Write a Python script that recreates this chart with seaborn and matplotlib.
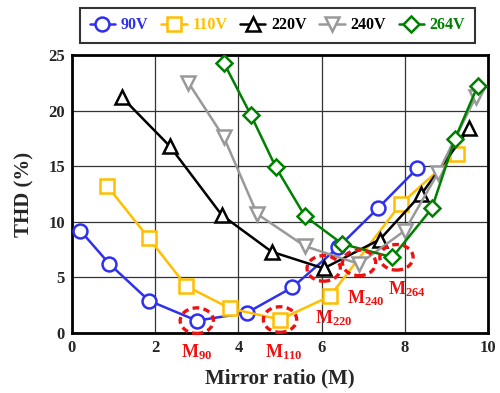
import matplotlib
matplotlib.use("Agg")
import matplotlib.pyplot as plt
from matplotlib.patches import Ellipse
import seaborn as sns
import pandas as pd

# THD versus mirror ratio for each input voltage
m_90 = [0.2, 0.9, 1.85, 3.0, 4.2, 5.3, 6.4, 7.35, 8.3]
thd_90 = [9.2, 6.2, 2.9, 1.1, 1.8, 4.1, 7.7, 11.2, 14.8]

m_110 = [0.85, 1.85, 2.75, 3.8, 5.0, 6.2, 7.9, 9.25]
thd_110 = [13.2, 8.5, 4.2, 2.2, 1.2, 3.3, 11.6, 16.1]

m_220 = [1.2, 2.35, 3.6, 4.8, 6.05, 7.4, 8.4, 9.55]
thd_220 = [21.2, 16.8, 10.6, 7.3, 5.8, 8.4, 12.5, 18.4]

m_240 = [2.8, 3.65, 4.45, 5.6, 6.9, 8.0, 8.8, 9.7]
thd_240 = [22.5, 17.6, 10.7, 7.8, 6.2, 9.2, 14.4, 21.2]

m_264 = [3.65, 4.3, 4.9, 5.6, 6.5, 7.7, 8.65, 9.2, 9.75]
thd_264 = [24.3, 19.6, 14.9, 10.5, 8.0, 6.8, 11.2, 17.4, 22.2]

voltages = ["90V", "110V", "220V", "240V", "264V"]
colors = ["#2f2ff0", "#ffbf00", "#000000", "#999999", "#008000"]
markers = ["o", "s", "^", "v", "D"]

# optimum points (mirror ratio, THD) and their labels
opt_m = [3.0, 5.0, 6.05, 6.9, 7.8]
opt_thd = [1.1, 1.2, 5.8, 6.3, 6.8]
opt_labels = ["M$_{90}$", "M$_{110}$", "M$_{220}$", "M$_{240}$", "M$_{264}$"]
label_pos = [(3.0, -1.7), (5.1, -1.7), (6.3, 1.35), (7.07, 3.15), (8.05, 3.9)]

series = [(m_90, thd_90), (m_110, thd_110), (m_220, thd_220),
          (m_240, thd_240), (m_264, thd_264)]
frames = []
for v, (mx, ty) in zip(voltages, series):
    frames.append(pd.DataFrame({"M": mx, "THD": ty, "Voltage": v}))
df = pd.concat(frames, ignore_index=True)

sns.set_style("white")
plt.rcParams["font.family"] = ["Liberation Serif", "DejaVu Serif"]
plt.rcParams["font.weight"] = "bold"
plt.rcParams["mathtext.fontset"] = "custom"
plt.rcParams["mathtext.rm"] = "Liberation Serif:bold"
plt.rcParams["mathtext.it"] = "Liberation Serif:bold"
plt.rcParams["mathtext.bf"] = "Liberation Serif:bold"

fig = plt.figure(figsize=(5.0, 3.93), dpi=100)
ax = fig.add_axes([0.144, 0.153, 0.832, 0.707])

for v, c, mk in zip(voltages, colors, markers):
    sub = df[df["Voltage"] == v]
    sns.lineplot(data=sub, x="M", y="THD", ax=ax, color=c, marker=mk,
                 markersize=10 if mk != "D" else 8.5, markerfacecolor="white",
                 markeredgecolor=c, markeredgewidth=1.8, linewidth=1.8,
                 label=v, sort=False, zorder=3)

# dashed circles around the optimum points
red = "#ee1111"
for mx, ty in zip(opt_m, opt_thd):
    ax.add_patch(Ellipse((mx, ty), width=0.8, height=2.3, fill=False,
                         edgecolor=red, linestyle=(0, (2, 1.3)),
                         linewidth=2.4, zorder=4, clip_on=False))

for (lx, ly), lab in zip(label_pos, opt_labels):
    ax.text(lx, ly, lab, color=red, fontsize=13, ha="center",
            va="center", fontweight="bold")

ax.set_xlim(0, 10)
ax.set_ylim(0, 25)
ax.set_xticks([0, 2, 4, 6, 8, 10])
ax.set_yticks([0, 5, 10, 15, 20, 25])
ax.grid(True, color="#333333", linewidth=0.9)
ax.set_axisbelow(True)
for s in ax.spines.values():
    s.set_color("black")
    s.set_linewidth(2)
ax.tick_params(axis="both", labelsize=12, length=0, pad=5)
for lbl in ax.get_xticklabels() + ax.get_yticklabels():
    lbl.set_fontweight("bold")
ax.set_xlabel("Mirror ratio (M)", fontsize=15, fontweight="bold", labelpad=9)
ax.set_ylabel("THD (%)", fontsize=15, fontweight="bold", labelpad=10)

leg = ax.legend(loc="upper center", bbox_to_anchor=(0.555, 0.98),
                bbox_transform=fig.transFigure, ncol=5,
                frameon=True, fancybox=False, edgecolor="black",
                fontsize=11.5, handlelength=1.6, handletextpad=0.35,
                columnspacing=0.8, borderpad=0.6, borderaxespad=0)
leg.get_frame().set_linewidth(1.5)
for txt, c in zip(leg.get_texts(), colors):
    txt.set_fontweight("bold")
    txt.set_color(c if c not in ("#000000", "#999999") else "black")

fig.savefig("out.png", dpi=100)
